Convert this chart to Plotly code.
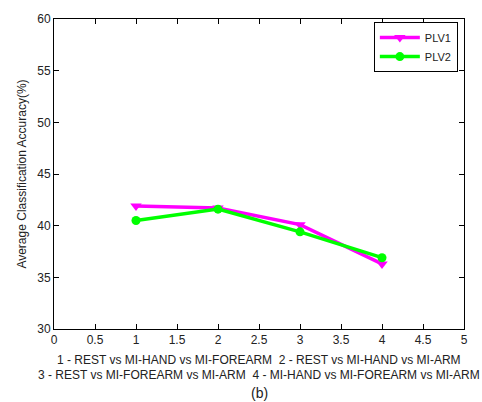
import plotly.graph_objects as go

x_vals = [1, 2, 3, 4]
plv1 = [41.9, 41.7, 40.1, 36.3]
plv2 = [40.5, 41.6, 39.4, 36.9]
x_ticks = [0, 0.5, 1, 1.5, 2, 2.5, 3, 3.5, 4, 4.5, 5]
y_ticks = [30, 35, 40, 45, 50, 55, 60]
xlabel_lines = ["1 - REST vs MI-HAND vs MI-FOREARM  2 - REST vs MI-HAND vs MI-ARM",
                "3 - REST vs MI-FOREARM vs MI-ARM  4 - MI-HAND vs MI-FOREARM vs MI-ARM"]
ylabel = "Average Classification Accuracy(%)"
caption = "(b)"

FONT = "Liberation Sans, Arial"

fig = go.Figure()
fig.add_trace(go.Scatter(x=x_vals, y=plv1, name="PLV1", mode="lines+markers",
                         line=dict(color="#ff00ff", width=3.5),
                         marker=dict(symbol="triangle-down", size=10, color="#ff00ff")))
fig.add_trace(go.Scatter(x=x_vals, y=plv2, name="PLV2", mode="lines+markers",
                         line=dict(color="#00ff00", width=3.5),
                         marker=dict(symbol="circle", size=9, color="#00ff00")))

axis_common = dict(showline=True, linecolor="black", linewidth=1, mirror="ticks",
                   ticks="inside", ticklen=5, tickcolor="black", showgrid=False,
                   zeroline=False, tickfont=dict(family=FONT, size=12, color="#222"))
fig.update_xaxes(range=[0, 5], tickvals=x_ticks, ticktext=[f"{v:g}" for v in x_ticks], **axis_common)
fig.update_yaxes(range=[30, 60], tickvals=y_ticks, **axis_common,
                 title=dict(text=ylabel, font=dict(family=FONT, size=12, color="#222"), standoff=8))

fig.add_annotation(text=xlabel_lines[0], x=0.5, y=-0.07, xref="paper", yref="paper",
                   showarrow=False, yanchor="top", font=dict(family=FONT, size=12, color="#222"))
fig.add_annotation(text=xlabel_lines[1], x=0.5, y=-0.12, xref="paper", yref="paper",
                   showarrow=False, yanchor="top", font=dict(family=FONT, size=12, color="#222"))
fig.add_annotation(text=caption, x=0.5, y=-0.175, xref="paper", yref="paper",
                   showarrow=False, yanchor="top", font=dict(family=FONT, size=14, color="#222"))

fig.update_layout(width=482, height=402, margin=dict(l=54, r=18, t=14, b=73),
                  paper_bgcolor="white", plot_bgcolor="white", showlegend=True,
                  legend=dict(x=0.985, y=0.99, xanchor="right", yanchor="top",
                              bordercolor="black", borderwidth=1, bgcolor="white",
                              font=dict(family=FONT, size=11, color="#222"),
                              tracegroupgap=0, itemwidth=40))
fig.write_html("out.html")
